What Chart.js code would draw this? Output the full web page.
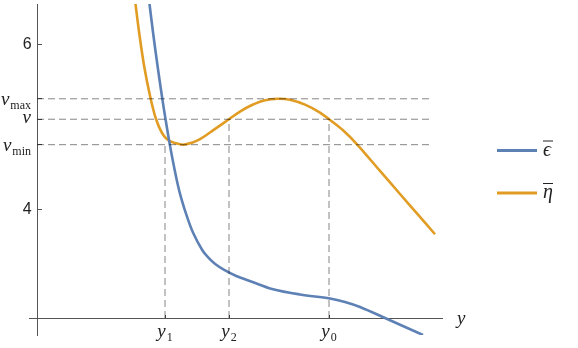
<!DOCTYPE html>
<html>
<head>
<meta charset="utf-8">
<script src="https://cdn.jsdelivr.net/npm/chart.js@4.4.0/dist/chart.umd.min.js"></script>
<style>
  html, body { margin: 0; padding: 0; background: #fff; }
</style>
</head>
<body>
<canvas id="chart" width="578" height="348"></canvas>
<script>
// levels on the value axis: nu_max, nu, nu_min
const nuLevels = [5.342, 5.095, 4.788];
const nuSubs = ['max', '', 'min'];
const valueTicks = [4, 6];

// marked points on the y axis and how high their guide goes
const yMarks = [1.28, 1.92, 2.92];
const yMarkSubs = ['1', '2', '0'];
const yMarkTops = [4.788, 5.095, 5.095];
const dashEnd = 3.93;
const axisCross = 2.696;

// curves
const epsX = [1.10, 1.12, 1.161, 1.207, 1.252, 1.285, 1.338, 1.404, 1.447, 1.501, 1.562, 1.652, 1.716, 1.782, 1.872, 1.992, 2.148, 2.35, 2.63, 2.93, 3.08, 3.23, 3.48, 3.86];
const epsY = [6.716, 6.535, 6.136, 5.726, 5.352, 5.098, 4.724, 4.326, 4.121, 3.916, 3.722, 3.517, 3.421, 3.348, 3.276, 3.203, 3.134, 3.047, 2.980, 2.932, 2.890, 2.829, 2.696, 2.491];
const etaX = [0.961, 0.98, 1.022, 1.073, 1.135, 1.19, 1.25, 1.31, 1.38, 1.46, 1.55, 1.63, 1.73, 1.92, 2.03, 2.15, 2.28, 2.41, 2.53, 2.68, 2.83, 2.92, 3.06, 3.20, 3.43, 3.63, 3.81, 3.98];
const etaY = [6.716, 6.535, 6.136, 5.726, 5.352, 5.098, 4.929, 4.845, 4.809, 4.788, 4.812, 4.855, 4.935, 5.095, 5.188, 5.267, 5.325, 5.342, 5.330, 5.271, 5.176, 5.095, 4.962, 4.793, 4.471, 4.193, 3.943, 3.707];

const blue = '#5E81B5';
const orange = '#E19C24';
const axisColor = '#555';

const dashStyle = {
    borderColor: 'rgba(0,0,0,0.48)',
    borderWidth: 1,
    borderDash: [7, 4],
    pointRadius: 0,
    tension: 0,
    clip: false
};

const datasets = [];
nuLevels.forEach(v => {
    datasets.push({ ...dashStyle, data: [{ x: 0, y: v }, { x: dashEnd, y: v }] });
});
yMarks.forEach((m, i) => {
    datasets.push({ ...dashStyle, data: [{ x: m, y: axisCross }, { x: m, y: yMarkTops[i] }] });
});
datasets.push({
    label: 'ϵ', legend: true,
    data: epsX.map((x, i) => ({ x: x, y: epsY[i] })),
    borderColor: blue, borderWidth: 2.6, pointRadius: 0,
    tension: 0.35
});
datasets.push({
    label: 'η', legend: true,
    data: etaX.map((x, i) => ({ x: x, y: etaY[i] })),
    borderColor: orange, borderWidth: 2.6, pointRadius: 0,
    tension: 0.35
});

// text with a subscript, italic main part like the math labels
function drawMath(ctx, main, sub, ax, base, align) {
    ctx.font = 'italic 19px "Liberation Serif"';
    const wm = ctx.measureText(main).width;
    ctx.font = '12px "Liberation Serif"';
    const ws = sub ? ctx.measureText(sub).width + 1 : 0;
    let sx = ax;
    if (align === 'right') sx = ax - wm - ws;
    if (align === 'center') sx = ax - (wm + ws) / 2;
    ctx.textAlign = 'left';
    ctx.textBaseline = 'alphabetic';
    ctx.font = 'italic 19px "Liberation Serif"';
    ctx.fillText(main, sx, base);
    if (sub) {
        ctx.font = '12px "Liberation Serif"';
        ctx.fillText(sub, sx + wm + 1, base + 4);
    }
}

const mathLabels = {
    id: 'mathLabels',
    afterDraw(chart) {
        const { ctx, scales: { x, y } } = chart;
        ctx.save();
        ctx.fillStyle = '#222';
        nuLevels.forEach((v, i) => {
            const py = y.getPixelForValue(v);
            drawMath(ctx, 'ν', nuSubs[i], 31, py + (nuSubs[i] ? 6 : 4), 'right');
        });
        const axisPy = y.getPixelForValue(axisCross);
        yMarks.forEach((m, i) => {
            drawMath(ctx, 'y', yMarkSubs[i], x.getPixelForValue(m), axisPy + 19, 'center');
        });
        drawMath(ctx, 'y', '', x.right + 15, axisPy + 6, 'left');

        // legend
        const items = chart.data.datasets.filter(d => d.legend);
        items.forEach((d, i) => {
            const ly = 150.5 + i * 42.5;
            ctx.strokeStyle = d.borderColor;
            ctx.lineWidth = 3;
            ctx.beginPath();
            ctx.moveTo(497, ly);
            ctx.lineTo(537, ly);
            ctx.stroke();
            ctx.font = 'italic 20px "Liberation Serif"';
            ctx.textAlign = 'left';
            ctx.textBaseline = 'alphabetic';
            ctx.fillStyle = '#222';
            const w = ctx.measureText(d.label).width;
            ctx.fillText(d.label, 543, ly + 5);
            ctx.strokeStyle = '#222';
            ctx.lineWidth = 1;
            ctx.beginPath();
            ctx.moveTo(543, ly - 9.5);
            ctx.lineTo(543 + Math.max(w, 10), ly - 9.5);
            ctx.stroke();
        });
        ctx.restore();
    }
};

new Chart(document.getElementById('chart'), {
    type: 'line',
    data: { datasets: datasets },
    options: {
        responsive: false,
        animation: false,
        devicePixelRatio: 1,
        layout: { padding: { left: 29, right: 136, top: 4, bottom: 13 } },
        plugins: { legend: { display: false }, tooltip: { enabled: false } },
        scales: {
            x: {
                type: 'linear',
                min: -0.08,
                max: 4.05,
                position: { y: axisCross },
                border: { color: axisColor, width: 1 },
                grid: { drawOnChartArea: false, drawTicks: true, tickLength: -4, color: axisColor },
                ticks: { autoSkip: false, callback: () => '' },
                afterBuildTicks: s => { s.ticks = yMarks.map(v => ({ value: v })); },
                afterFit: s => { s.paddingLeft = 0; s.paddingRight = 0; }
            },
            y: {
                type: 'linear',
                min: 2.491,
                max: 6.486,
                position: { x: 0 },
                border: { color: axisColor, width: 1 },
                grid: { drawOnChartArea: false, drawTicks: true, tickLength: -5, color: axisColor },
                ticks: {
                    autoSkip: false,
                    color: '#222',
                    font: { family: '"Liberation Sans"', size: 16 },
                    // object-positioned axes put the label right on the line, so pad with a space
                    callback: v => valueTicks.includes(v) ? String(v) + '\u2004' : ''
                },
                afterBuildTicks: s => {
                    s.ticks = valueTicks.concat(nuLevels).sort((a, b) => a - b).map(v => ({ value: v }));
                },
                afterFit: s => { s.paddingTop = 0; s.paddingBottom = 0; }
            }
        }
    },
    plugins: [mathLabels]
});
</script>
</body>
</html>
